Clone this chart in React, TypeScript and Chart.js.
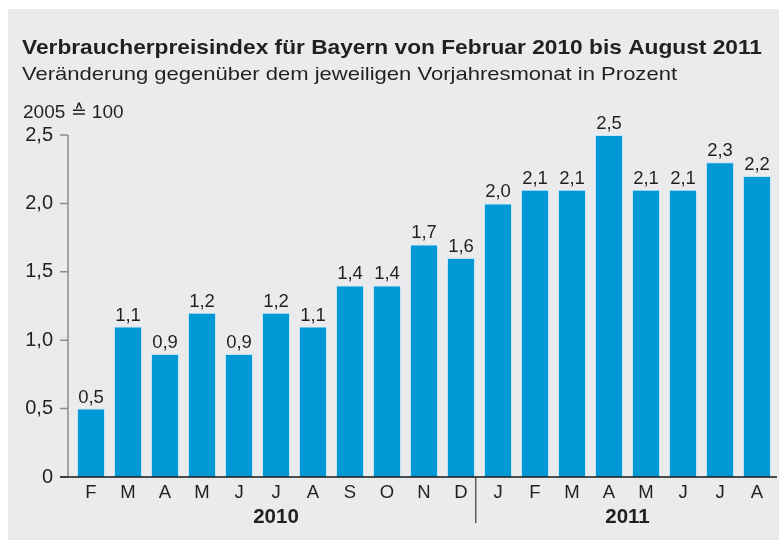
import React, { useEffect, useRef } from "react";
import { Chart, registerables } from "chart.js";

Chart.register(...registerables);

const months = ["F", "M", "A", "M", "J", "J", "A", "S", "O", "N", "D", "J", "F", "M", "A", "M", "J", "J", "A"];
const values = [0.5, 1.1, 0.9, 1.2, 0.9, 1.2, 1.1, 1.4, 1.4, 1.7, 1.6, 2.0, 2.1, 2.1, 2.5, 2.1, 2.1, 2.3, 2.2];
const years = ["2010", "2011"];
const yearCounts = [11, 8];
const yTicks = [0, 0.5, 1.0, 1.5, 2.0, 2.5];

const TITLE = "Verbraucherpreisindex für Bayern von Februar 2010 bis August 2011";
const SUBTITLE = "Veränderung gegenüber dem jeweiligen Vorjahresmonat in Prozent";
const UNIT = "2005 ≙ 100";

const FONT = '"Liberation Sans", Arial, Helvetica, sans-serif';
const TEXT = "#231f20";

const fmt = (v: number) => (v === 0 ? "0" : v.toFixed(1).replace(".", ","));

function drawFit(ctx: CanvasRenderingContext2D, text: string, x: number, y: number, target: number) {
  const w = ctx.measureText(text).width;
  const sx = target / w;
  ctx.save();
  ctx.translate(x, y);
  ctx.scale(sx, 1);
  ctx.textAlign = "left";
  ctx.fillText(text, 0, 0);
  ctx.restore();
}

const decor = {
  id: "decor",
  afterDatasetsDraw(chart: any) {
    const ctx: CanvasRenderingContext2D = chart.ctx;
    const x = chart.scales.x;
    const y = chart.scales.y;
    ctx.save();
    ctx.fillStyle = TEXT;
    ctx.textBaseline = "alphabetic";

    // titles
    ctx.font = `bold 20.5px ${FONT}`;
    drawFit(ctx, TITLE, 14, 45, 740);
    ctx.font = `19px ${FONT}`;
    drawFit(ctx, SUBTITLE, 14, 71, 655);
    ctx.font = `19px ${FONT}`;
    ctx.textAlign = "left";
    ctx.fillText(UNIT, 15, 109);

    // y axis line & ticks
    const y0 = y.getPixelForValue(0);
    const yTop = y.getPixelForValue(yTicks[yTicks.length - 1]);
    ctx.strokeStyle = "#8c8c8c";
    ctx.lineWidth = 1.5;
    ctx.beginPath();
    ctx.moveTo(60, yTop);
    ctx.lineTo(60, y0);
    yTicks.forEach((t) => {
      const py = y.getPixelForValue(t);
      ctx.moveTo(52, py);
      ctx.lineTo(60, py);
    });
    ctx.stroke();

    ctx.font = `20px ${FONT}`;
    ctx.textAlign = "right";
    ctx.textBaseline = "middle";
    yTicks.forEach((t) => {
      ctx.fillText(fmt(t), 45, y.getPixelForValue(t));
    });

    // zero line
    ctx.strokeStyle = "#1a1a1a";
    ctx.lineWidth = 1.6;
    ctx.beginPath();
    ctx.moveTo(52, y0);
    ctx.lineTo(769, y0);
    ctx.stroke();

    // value labels
    ctx.font = `18.5px ${FONT}`;
    ctx.textAlign = "center";
    ctx.textBaseline = "alphabetic";
    values.forEach((v, i) => {
      ctx.fillText(fmt(v), x.getPixelForValue(i), y.getPixelForValue(v) - 6);
    });

    // month labels
    ctx.font = `18.5px ${FONT}`;
    months.forEach((m, i) => {
      ctx.fillText(m, x.getPixelForValue(i), y0 + 21);
    });

    // year labels & separators
    const step = x.getPixelForValue(1) - x.getPixelForValue(0);
    ctx.font = `bold 20.5px ${FONT}`;
    let start = 0;
    years.forEach((yr, k) => {
      const end = start + yearCounts[k] - 1;
      const cx = (x.getPixelForValue(start) + x.getPixelForValue(end)) / 2;
      ctx.fillText(yr, cx, y0 + 46);
      if (k > 0) {
        const sxp = x.getPixelForValue(start) - step * 0.6;
        ctx.strokeStyle = "#3a3a3a";
        ctx.lineWidth = 1.2;
        ctx.beginPath();
        ctx.moveTo(sxp, y0);
        ctx.lineTo(sxp, y0 + 46);
        ctx.stroke();
      }
      start = end + 1;
    });
    ctx.restore();
  },
};

export default function App() {
  const ref = useRef<HTMLCanvasElement | null>(null);
  useEffect(() => {
    if (!ref.current) return;
    const chart = new Chart(ref.current, {
      type: "bar",
      data: {
        labels: months,
        datasets: [
          {
            data: values,
            backgroundColor: "#0099d6",
            borderColor: "rgba(190,230,248,0.9)",
            borderWidth: { left: 1, right: 1, top: 1, bottom: 0 },
            borderSkipped: false,
            barPercentage: 0.757,
            categoryPercentage: 1,
          },
        ],
      },
      options: {
        animation: false,
        responsive: false,
        maintainAspectRatio: false,
        layout: { padding: { left: 64.5, right: 3.5, top: 126, bottom: 63 } },
        plugins: { legend: { display: false }, tooltip: { enabled: false }, title: { display: false } },
        scales: {
          x: { display: false, offset: true },
          y: { display: false, min: 0, max: 2.5 },
        },
      },
      plugins: [decor],
    });
    return () => chart.destroy();
  }, []);
  return (
    <div style={{ position: "absolute", left: 8, top: 9, width: 771, height: 531, background: "#ebebee" }}>
      <canvas ref={ref} width={771} height={531} style={{ display: "block" }} />
    </div>
  );
}
